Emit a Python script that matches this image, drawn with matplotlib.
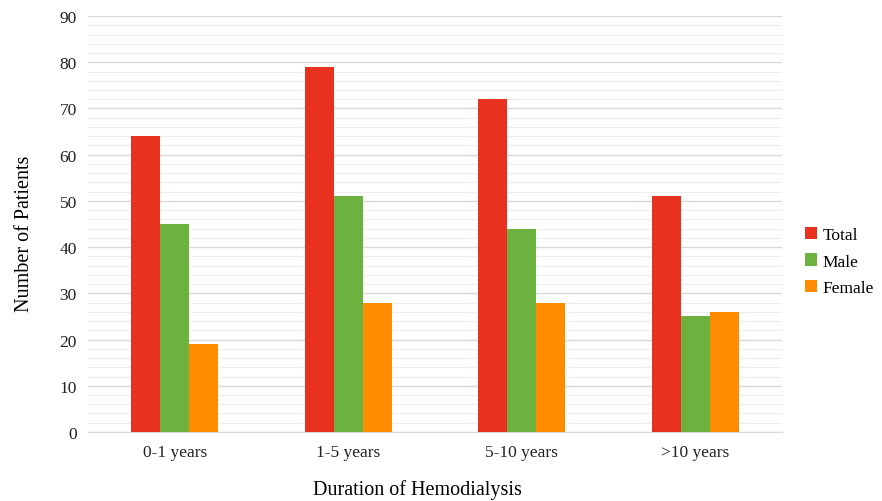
import numpy as np
import matplotlib.pyplot as plt
from matplotlib.ticker import MultipleLocator

plt.rcParams['font.family'] = ['Liberation Serif', 'DejaVu Serif']

categories = ['0-1 years', '1-5 years', '5-10 years', '>10 years']
total = [64, 79, 72, 51]
male = [45, 51, 44, 25]
female = [19, 28, 28, 26]

series = [('Total', total, '#E8311F'),
          ('Male', male, '#6DB23F'),
          ('Female', female, '#FF8C00')]

fig = plt.figure(figsize=(8.82, 5.02), dpi=100)
ax = fig.add_axes([0.0998, 0.1375, 0.7868, 0.8285])

x = np.arange(len(categories))
w = 0.5 / 3
for i, (name, vals, col) in enumerate(series):
    ax.bar(x + (i - 1) * w, vals, w, color=col, label=name, zorder=3)

ax.set_xlim(-0.5, len(categories) - 0.5)
ax.set_ylim(0, 90)
ax.yaxis.set_major_locator(MultipleLocator(10))
ax.yaxis.set_minor_locator(MultipleLocator(2))
ax.grid(axis='y', which='major', color='#D9D9D9', linewidth=1.0, zorder=0)
ax.grid(axis='y', which='minor', color='#EDEDED', linewidth=0.8, zorder=0)

ax.set_xticks(x)
ax.set_xticklabels(categories)
ax.tick_params(axis='both', which='both', length=0, labelsize=12.5, colors='#222222')
ax.tick_params(axis='x', pad=9)
ax.tick_params(axis='y', pad=8)

for s in ['top', 'right', 'left']:
    ax.spines[s].set_visible(False)
ax.spines['bottom'].set_color('#D9D9D9')

ax.set_xlabel('Duration of Hemodialysis', fontsize=14.5)
ax.set_ylabel('Number of Patients', fontsize=14.5)
ax.xaxis.set_label_coords(0.475, -0.113)
ax.yaxis.set_label_coords(-0.078, 0.48)

ax.legend(loc='center left', bbox_to_anchor=(1.01, 0.41), frameon=False,
          fontsize=12.5, handlelength=0.7, handleheight=0.7, handletextpad=0.35,
          labelspacing=0.6)

fig.savefig('out.png', dpi=100)
